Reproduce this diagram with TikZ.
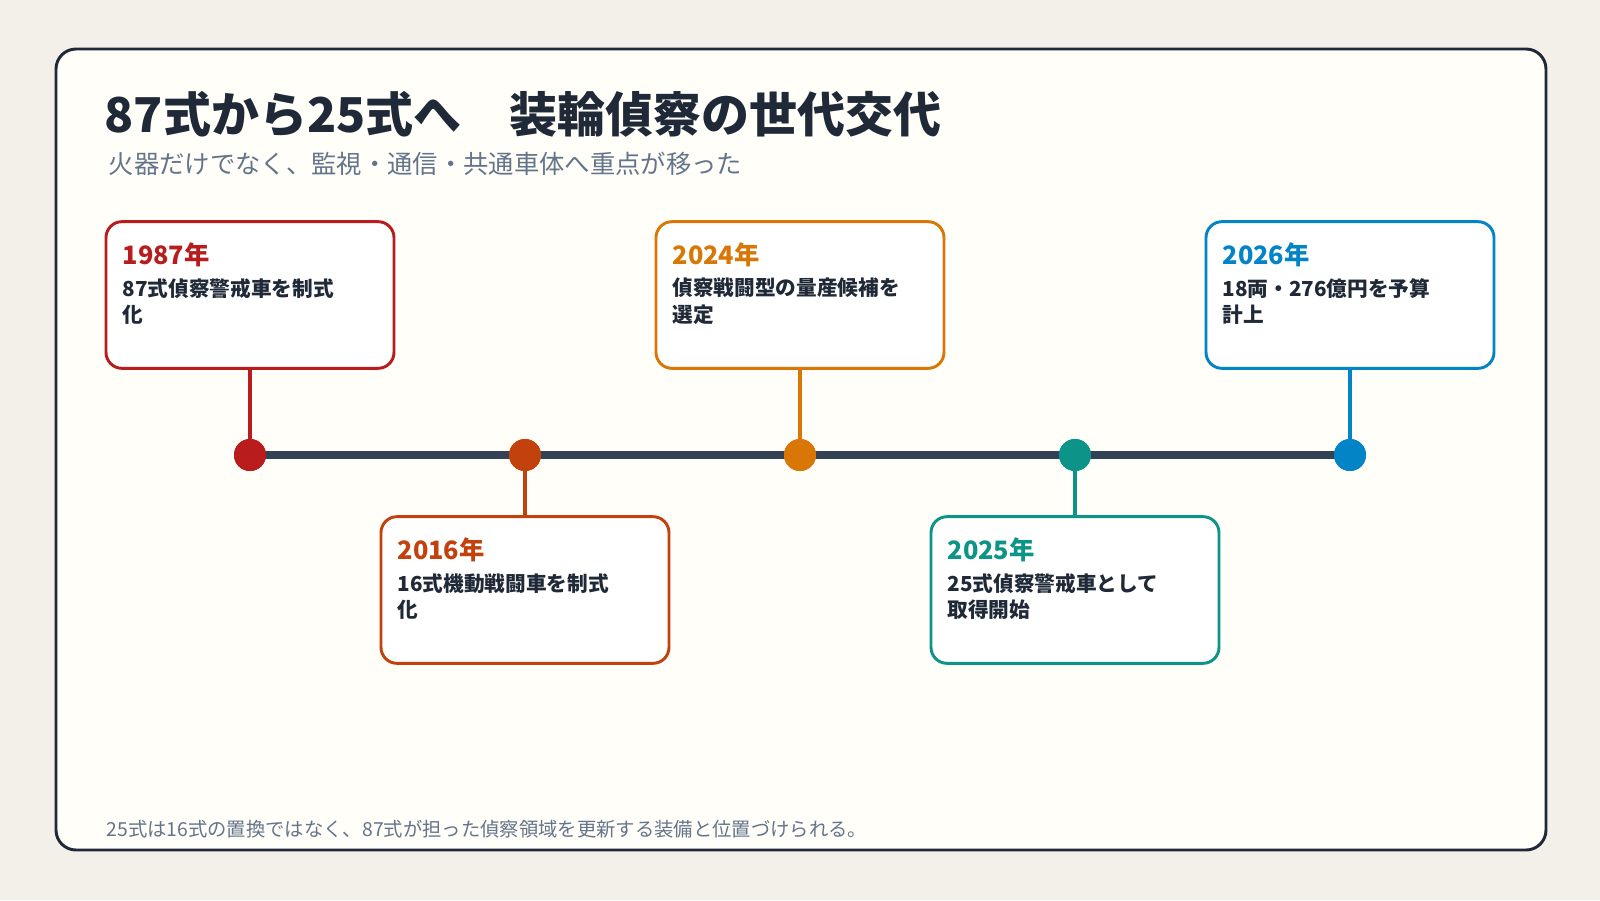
\documentclass[tikz,border=0pt]{standalone}
\usepackage{fontspec}
\setmainfont{Noto Sans CJK JP}
\definecolor{pagebg}{HTML}{F3EFE9}
\definecolor{panelbg}{HTML}{FFFEF9}
\definecolor{ink}{HTML}{1F2937}
\definecolor{axis}{HTML}{334155}
\definecolor{muted}{HTML}{64748B}
\definecolor{cA}{HTML}{B91C1C}
\definecolor{cB}{HTML}{C2410C}
\definecolor{cC}{HTML}{D97706}
\definecolor{cD}{HTML}{0D9488}
\definecolor{cE}{HTML}{0284C7}
\tikzset{
  card/.style={draw=#1, line width=2.2pt, fill=white, rounded corners=12pt,
    minimum width=216pt, minimum height=110pt},
  year/.style={text=#1, font=\fontsize{19}{22}\selectfont\bfseries, anchor=west},
  body/.style={text=ink, font=\fontsize{15.5}{20}\selectfont\bfseries, anchor=north west, align=left},
  dot/.style={circle, fill=#1, minimum size=24pt, inner sep=0pt},
  stem/.style={draw=#1, line width=2.4pt},
}
\begin{document}
\begin{tikzpicture}[x=0.75pt, y=-0.75pt]
  \useasboundingbox (0,0) rectangle (1600,900);
  \fill[pagebg] (0,0) rectangle (1600,900);
  \draw[ink, line width=2.2pt, fill=panelbg, rounded corners=15pt] (56,49) rectangle (1546,850);

  % titre
  \node[anchor=west, text=ink, font=\fontsize{36}{40}\selectfont\bfseries] (title) at (100,114) {87式から25式へ\quad 装輪偵察の世代交代};
  \node[anchor=west, text=muted, font=\fontsize{19}{22}\selectfont] (sub) at (104,164) {火器だけでなく、監視・通信・共通車体へ重点が移った};

  % axe
  \draw[axis, line width=5.5pt] (250,455) -- (1350,455);

  % jalons
  \foreach \x/\c/\yr/\la/\lb/\up [count=\i] in {
      250/cA/1987年/87式偵察警戒車を制式/化/1,
      525/cB/2016年/16式機動戦闘車を制式/化/0,
      800/cC/2024年/偵察戦闘型の量産候補を/選定/1,
      1075/cD/2025年/25式偵察警戒車として/取得開始/0,
      1350/cE/2026年/18両・276億円を予算/計上/1} {
    \ifnum\up=1
      \node[card=\c] (k\i) at (\x,295) {};
    \else
      \node[card=\c] (k\i) at (\x,590) {};
    \fi
    \node[dot=\c] (d\i) at (\x,455) {};
    \draw[stem=\c] (k\i) -- (d\i);
    \node[dot=\c] at (d\i) {};
    \node[year=\c] (y\i) at ([xshift=10pt,yshift=-26pt]k\i.north west) {\yr};
    \node[body] (b\i) at ([xshift=10pt,yshift=-40pt]k\i.north west) {\la\\\lb};
  }

  % note
  \node[anchor=west, text=muted, font=\fontsize{14.5}{17}\selectfont] (note) at (102,829) {25式は16式の置換ではなく、87式が担った偵察領域を更新する装備と位置づけられる。};
\end{tikzpicture}
\end{document}
